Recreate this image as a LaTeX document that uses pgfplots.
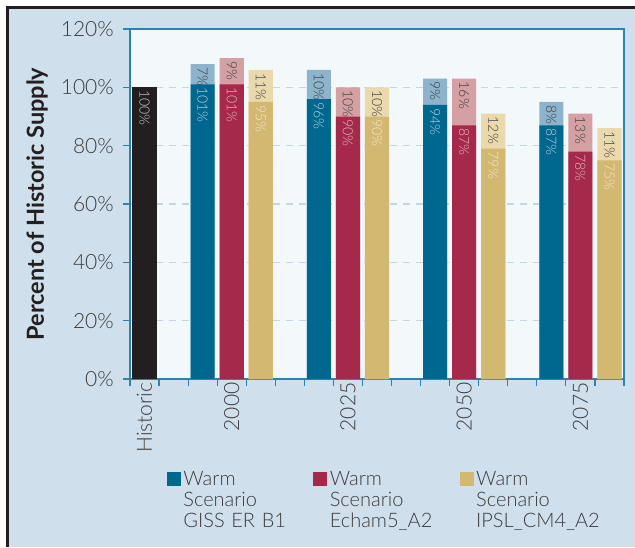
\documentclass[border=0pt]{standalone}
\usepackage{fontspec}
\setmainfont{Lato}[UprightFont={* Light}, BoldFont={* Bold}]
\usepackage{pgfplots}
\pgfplotsset{compat=1.18}
\definecolor{outerbg}{RGB}{207,223,235}
\definecolor{plotbg}{RGB}{243,248,251}
\definecolor{framec}{RGB}{35,31,32}
\definecolor{axisc}{RGB}{42,132,175}
\definecolor{gridc}{RGB}{196,214,227}
\definecolor{txt}{RGB}{60,60,60}
\definecolor{blueD}{RGB}{0,104,143}
\definecolor{blueL}{RGB}{141,179,205}
\definecolor{redD}{RGB}{165,41,75}
\definecolor{redL}{RGB}{212,160,164}
\definecolor{yelD}{RGB}{211,184,114}
\definecolor{yelL}{RGB}{234,217,173}
\definecolor{histc}{RGB}{35,31,32}

\pgfplotsset{
  segbar/.style={fill=#1, draw=none, bar shift=0pt, bar width=0.83},
}

\begin{document}
\begin{tikzpicture}
\path[use as bounding box] (0pt,0pt) rectangle (635pt,547pt);
\fill[white] (0pt,0pt) rectangle (635pt,547pt);
\fill[outerbg] (7.5pt,0pt) rectangle (635pt,539.5pt);
\draw[framec, line width=3pt] (7.5pt,0pt) -- (7.5pt,539.5pt) -- (635pt,539.5pt);

\begin{axis}[
    scale only axis,
    width=494pt, height=350pt,
    at={(130pt,168pt)}, anchor=south west,
    ybar,
    xmin=-0.5, xmax=16.5,
    ymin=0, ymax=120,
    axis background/.style={fill=plotbg},
    axis line style={draw=axisc, line width=1.5pt},
    tick style={draw=axisc, line width=1.2pt},
    major tick length=7pt,
    tick align=outside,
    xtick pos=bottom, ytick pos=left,
    xtick={-0.5,0.5,...,16.5},
    xticklabels={},
    extra x ticks={0,3,7,11,15},
    extra x tick labels={Historic,2000,2025,2050,2075},
    extra x tick style={major tick length=0pt,
      xticklabel style={rotate=90, anchor=east}},
    ytick={0,20,...,120},
    yticklabels={0\%,20\%,40\%,60\%,80\%,100\%,120\%},
    yticklabel style={inner xsep=9pt},
    ymajorgrids,
    grid style={draw=gridc, line width=1.2pt, dash pattern=on 7pt off 6pt},
    tick label style={font=\fontsize{21}{21}\selectfont, text=txt},
    ylabel={\bfseries Percent of Historic Supply},
    ylabel style={at={(axis description cs:-0.188,0.5)}, anchor=center,
      font=\fontsize{23.5}{23.5}\selectfont, text=framec},
    point meta=explicit symbolic,
    nodes near coords style={rotate=-90, anchor=west, inner xsep=3pt,
      inner ysep=0pt, font=\fontsize{14}{14}\selectfont},
    legend columns=3,
    legend style={at={(axis description cs:0.0749,-0.263)}, anchor=north west,
      draw=none, fill=none, inner sep=0pt, outer sep=0pt, column sep=0pt,
      nodes={inner sep=0pt, text width=130pt, align=left, anchor=north west,
        font=\fontsize{20}{21}\selectfont, text=txt}},
]
% historic
\addplot[segbar=histc, forget plot, nodes near coords,
  every node near coord/.append style={text=white!80!black}]
  coordinates {(0,100) [100\%]};
% totals (lower + increment), light colours
\addplot[segbar=blueL, forget plot, nodes near coords,
  every node near coord/.append style={text=txt}]
  coordinates {(2,108) [7\%] (6,106) [10\%] (10,103) [9\%] (14,95) [8\%]};
\addplot[segbar=redL, forget plot, nodes near coords,
  every node near coord/.append style={text=txt}]
  coordinates {(3,110) [9\%] (7,100) [10\%] (11,103) [16\%] (15,91) [13\%]};
\addplot[segbar=yelL, forget plot, nodes near coords,
  every node near coord/.append style={text=txt}]
  coordinates {(4,106) [11\%] (8,100) [10\%] (12,91) [12\%] (16,86) [11\%]};
% lower values, dark colours
\addplot[segbar=blueD, forget plot, nodes near coords,
  every node near coord/.append style={text=blueL!60!white}]
  coordinates {(2,101) [101\%] (6,96) [96\%] (10,94) [94\%] (14,87) [87\%]};
\addplot[segbar=redD, forget plot, nodes near coords,
  every node near coord/.append style={text=redL!70!white}]
  coordinates {(3,101) [101\%] (7,90) [90\%] (11,87) [87\%] (15,78) [78\%]};
\addplot[segbar=yelD, forget plot, nodes near coords,
  every node near coord/.append style={text=yelL!60!white}]
  coordinates {(4,95) [95\%] (8,90) [90\%] (12,79) [79\%] (16,75) [75\%]};

\addlegendimage{legend image code/.code={
  \fill[blueD] (0pt,-1pt) rectangle (13pt,-14pt); \path (16pt,0pt);}}
\addlegendentry{Warm\\Scenario\\GISS ER B1}
\addlegendimage{legend image code/.code={
  \fill[redD] (0pt,-1pt) rectangle (13pt,-14pt); \path (16pt,0pt);}}
\addlegendentry{Warm\\Scenario\\Echam5\_A2}
\addlegendimage{legend image code/.code={
  \fill[yelD] (0pt,-1pt) rectangle (13pt,-14pt); \path (16pt,0pt);}}
\addlegendentry{Warm\\Scenario\\IPSL\_CM4\_A2}
\end{axis}
\end{tikzpicture}
\end{document}
